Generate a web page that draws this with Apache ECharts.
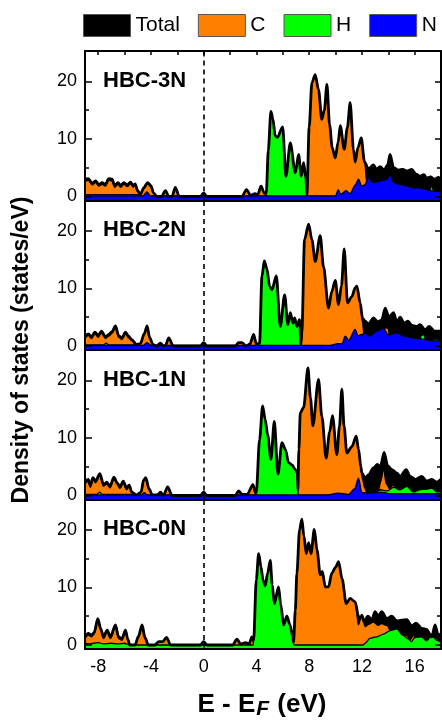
<!DOCTYPE html>
<html><head><meta charset="utf-8">
<script src="https://cdn.jsdelivr.net/npm/echarts@6/dist/echarts.min.js"></script>
<style>html,body{margin:0;padding:0;background:#fff;}#c{width:442px;height:721px;}</style>
</head><body><div id="c"></div>
<script>
const panelNames = ['HBC-3N', 'HBC-2N', 'HBC-1N', 'HBC-0N'];
const seriesNames = ['Total', 'C', 'H', 'N'];
const xTickLabels = [-8, -4, 0, 4, 8, 12, 16];
const xTopTicks = [-8, -6, -4, -2, 0, 2, 4, 6, 8, 10, 12, 14, 16];
const yMajorTicks = [0, 10, 20];
const yMinorTicks = [5, 15];

// ---- HBC-3N ----
const tot3N = [[-9.0,3.0],[-8.75,3.1],[-8.45,2.3],[-8.2,2.7],[-7.95,2.1],[-7.7,2.4],[-7.45,2.1],[-7.2,3.1],[-6.95,3.0],[-6.75,1.9],[-6.5,2.4],[-6.3,1.9],[-6.05,2.4],[-5.8,2.0],[-5.55,2.5],[-5.35,1.9],[-5.2,2.2],[-5.0,1.0],[-4.8,0.35],[-4.55,1.5],[-4.25,2.4],[-4.0,1.9],[-3.8,0.6],[-3.55,0],[-3.2,0],[-2.9,1.0],[-2.65,0],[-2.4,0],[-2.15,1.6],[-1.85,0],[-0.25,0],[0,0.6],[0.25,0],[2.9,0],[3.25,1.2],[3.55,0.2],[3.9,0.5],[4.1,0.3],[4.35,1.8],[4.6,0.6],[4.75,0.6],[4.9,8.0],[5.1,14.8],[5.25,13.5],[5.43,10.5],[5.6,10.3],[5.99,12.1],[6.24,3.5],[6.57,9.3],[6.95,4.1],[7.2,7.3],[7.4,3.5],[7.58,5.9],[7.76,3.0],[7.83,0.3],[8.0,12.0],[8.21,19.8],[8.46,21.2],[8.71,18.6],[8.96,13.4],[9.15,15.0],[9.35,19.5],[9.55,12.5],[9.75,8.5],[9.98,6.7],[10.2,9.5],[10.36,12.3],[10.66,8.2],[10.9,12.0],[11.11,16.3],[11.36,8.2],[11.49,6.0],[11.7,8.5],[11.95,10.2],[12.2,6.0],[12.5,4.8],[12.88,5.5],[13.1,4.7],[13.38,5.2],[13.7,4.6],[13.95,5.5],[14.14,7.3],[14.4,5.0],[14.78,4.6],[15.1,4.7],[15.41,4.4],[15.78,4.7],[16.1,3.9],[16.41,3.5],[16.7,3.8],[16.92,3.2],[17.2,3.4],[17.5,3.0],[17.8,3.3],[18.0,3.0]];
const c3N = [[-9.0,2.6],[-8.75,2.8],[-8.45,2.0],[-8.2,2.4],[-7.95,1.8],[-7.7,2.1],[-7.45,1.8],[-7.2,2.8],[-6.95,2.7],[-6.75,1.6],[-6.5,2.1],[-6.3,1.6],[-6.05,2.1],[-5.8,1.7],[-5.55,2.2],[-5.35,1.6],[-5.2,1.9],[-5.0,0.8],[-4.8,0.2],[-4.55,1.3],[-4.25,2.2],[-4.0,1.7],[-3.8,0.5],[-3.55,0],[-3.2,0],[-2.9,1.0],[-2.65,0],[-2.4,0],[-2.15,1.6],[-1.85,0],[-0.25,0],[0,0.6],[0.25,0],[2.9,0],[3.25,1.2],[3.55,0.2],[3.9,0.5],[4.1,0.3],[4.35,1.8],[4.6,0.5],[4.8,0],[7.83,0],[8.0,12.0],[8.21,19.8],[8.46,21.2],[8.71,18.6],[8.96,13.4],[9.15,15.0],[9.35,19.5],[9.55,12.5],[9.75,8.5],[9.98,6.7],[10.2,9.5],[10.36,12.3],[10.66,8.2],[10.9,12.0],[11.11,16.3],[11.36,8.2],[11.49,6.0],[11.7,8.5],[11.95,10.2],[12.2,6.0],[12.4,2.0],[12.6,0.4],[13.0,0.2],[18.0,0.2]];
const h3N = [[-9.0,0.3],[-7.0,0.3],[-5.0,0.3],[-4.8,0],[4.7,0],[4.75,0.6],[4.9,8.0],[5.1,14.8],[5.25,13.5],[5.43,10.5],[5.6,10.3],[5.99,12.1],[6.24,3.5],[6.57,9.3],[6.95,4.1],[7.2,7.3],[7.4,3.5],[7.58,5.9],[7.76,3.0],[7.83,0],[15.5,0],[15.78,2.0],[16.0,0],[17.0,0],[17.3,1.8],[17.55,0],[18.0,0]];
const n3N = [[-9.0,0.1],[-4.6,0.1],[-4.3,0.8],[-4.05,0.1],[10.0,0.1],[10.2,1.2],[10.4,0.4],[10.8,1.0],[11.1,0.5],[11.5,2.0],[11.74,3.0],[12.0,1.8],[12.2,2.0],[12.5,3.2],[12.88,2.4],[13.38,2.7],[13.9,3.0],[14.14,3.8],[14.4,2.4],[14.9,2.1],[15.41,1.8],[15.9,1.5],[16.4,1.5],[16.9,1.2],[17.4,0.9],[18.0,0.9]];

// ---- HBC-2N ----
const tot2N = [[-9.0,1.7],[-8.75,2.1],[-8.5,1.6],[-8.25,2.4],[-8.0,1.8],[-7.75,2.6],[-7.45,1.6],[-7.2,2.0],[-6.95,2.5],[-6.69,3.5],[-6.45,1.8],[-6.2,1.4],[-5.93,2.4],[-5.7,1.7],[-5.45,1.1],[-5.1,0.25],[-4.8,0.4],[-4.5,2.2],[-4.29,3.5],[-4.1,1.5],[-3.85,0.25],[-3.55,0],[-3.28,0.5],[-3.05,0],[-2.9,0.1],[-2.65,1.4],[-2.3,0],[-0.25,0],[0,0.6],[0.25,0],[2.4,0],[2.65,0.6],[2.9,0.6],[3.2,0],[3.5,0.3],[3.79,2.0],[4.0,0.3],[4.24,0.5],[4.42,12.1],[4.6,14.8],[4.8,13.4],[5.0,10.4],[5.18,9.8],[5.51,12.2],[5.81,3.4],[6.14,8.9],[6.39,3.7],[6.57,5.8],[6.77,4.0],[6.9,4.9],[7.07,3.4],[7.27,4.6],[7.38,0.3],[7.45,2.5],[7.65,18.5],[7.96,21.2],[8.21,18.5],[8.46,14.7],[8.84,19.2],[9.09,13.8],[9.47,6.6],[9.72,9.5],[9.98,11.4],[10.23,7.2],[10.45,10.5],[10.66,16.9],[10.91,7.5],[11.24,8.6],[11.49,10.1],[11.62,10.4],[11.87,7.5],[12.05,4.8],[12.25,4.3],[12.5,3.8],[12.88,4.9],[13.2,4.2],[13.5,4.5],[13.77,6.6],[14.05,5.0],[14.4,5.8],[14.65,4.2],[14.9,5.0],[15.2,4.0],[15.5,4.3],[15.78,3.6],[16.16,3.4],[16.41,3.7],[16.8,2.8],[17.1,3.4],[17.5,2.6],[18.0,2.6]];
const c2N = [[-9.0,1.4],[-8.75,1.8],[-8.5,1.3],[-8.25,2.1],[-8.0,1.5],[-7.75,2.3],[-7.45,1.3],[-7.2,1.7],[-6.95,2.2],[-6.69,3.2],[-6.45,1.5],[-6.2,1.1],[-5.93,2.1],[-5.7,1.4],[-5.45,0.9],[-5.1,0.1],[-4.8,0.3],[-4.5,2.0],[-4.29,3.2],[-4.1,1.3],[-3.85,0.2],[-3.55,0],[-3.28,0.5],[-3.05,0],[-2.9,0.1],[-2.65,1.4],[-2.3,0],[-0.25,0],[0,0.6],[0.25,0],[2.4,0],[2.65,0.6],[2.9,0.6],[3.2,0],[3.5,0.3],[3.79,2.0],[4.0,0.3],[4.2,0],[7.38,0],[7.45,2.5],[7.65,18.5],[7.96,21.2],[8.21,18.5],[8.46,14.7],[8.84,19.2],[9.09,13.8],[9.47,6.6],[9.72,9.5],[9.98,11.4],[10.23,7.2],[10.45,10.5],[10.66,16.9],[10.91,7.5],[11.24,8.6],[11.49,10.1],[11.62,10.4],[11.87,7.5],[12.05,4.0],[12.17,1.7],[12.35,0.2],[13.4,0.3],[13.6,2.5],[13.8,3.2],[14.0,3.0],[14.15,0.5],[14.4,0.2],[18.0,0.2]];
const h2N = [[-9.0,0.2],[-7.6,0.2],[-7.4,0.5],[-7.2,0.2],[-5.0,0.2],[-4.8,0],[4.2,0],[4.24,0.5],[4.42,12.1],[4.6,14.8],[4.8,13.4],[5.0,10.4],[5.18,9.8],[5.51,12.2],[5.81,3.4],[6.14,8.9],[6.39,3.7],[6.57,5.8],[6.77,4.0],[6.9,4.9],[7.07,3.4],[7.27,4.6],[7.38,0],[14.0,0],[14.27,2.5],[14.5,0],[16.3,0],[16.5,1.8],[16.7,2.0],[16.9,0.6],[17.6,1.2],[18.0,1.0]];
const n2N = [[-9.0,0.1],[-4.6,0.1],[-4.3,0.6],[-4.0,0.1],[9.5,0.1],[10.2,0.4],[10.5,0.4],[10.73,1.7],[11.0,1.0],[11.49,2.9],[11.7,1.8],[12.0,2.0],[12.25,2.3],[12.6,1.7],[13.13,2.6],[13.64,3.1],[14.0,1.9],[14.65,2.3],[15.2,1.7],[15.9,1.4],[16.6,1.2],[17.3,0.9],[18.0,0.9]];

// ---- HBC-1N ----
const tot1N = [[-9.0,2.3],[-8.75,2.8],[-8.6,1.7],[-8.4,3.1],[-8.2,2.5],[-7.87,3.8],[-7.6,1.9],[-7.35,2.3],[-7.1,1.6],[-6.81,3.2],[-6.55,2.2],[-6.35,1.5],[-6.1,2.5],[-5.85,1.3],[-5.65,1.8],[-5.45,0.6],[-5.1,0.1],[-4.75,0.6],[-4.55,2.7],[-4.39,3.1],[-4.15,1.2],[-3.9,0.1],[-3.5,0.1],[-3.28,0.6],[-3.05,0],[-2.73,1.5],[-2.4,0],[-0.25,0],[0,0.6],[0.25,0],[2.4,0],[2.65,0.8],[2.9,0.2],[3.3,0.2],[3.74,1.9],[3.92,0.5],[3.99,0.5],[4.24,9.7],[4.47,15.6],[4.67,13.2],[4.85,10.6],[5.1,6.3],[5.36,12.9],[5.63,3.7],[5.94,9.2],[6.2,8.0],[6.44,5.7],[6.7,5.3],[6.95,4.5],[7.1,4.0],[7.15,1.0],[7.22,8.0],[7.33,14.4],[7.58,15.3],[7.91,22.2],[8.1,17.0],[8.28,12.1],[8.71,20.2],[8.96,13.8],[9.29,6.5],[9.55,11.0],[9.77,13.9],[10.1,7.1],[10.3,12.0],[10.48,18.5],[10.65,12.0],[10.86,7.4],[11.24,8.5],[11.57,10.3],[11.75,8.0],[11.92,5.0],[12.0,3.9],[12.25,3.0],[12.5,3.6],[12.88,4.8],[13.18,5.4],[13.4,5.0],[13.69,7.5],[13.95,5.2],[14.27,4.5],[14.65,3.9],[14.9,3.3],[15.36,4.5],[15.66,3.3],[16.04,2.8],[16.54,3.3],[16.92,2.5],[17.3,2.8],[17.68,2.3],[18.0,2.8]];
const c1N = [[-9.0,2.0],[-8.75,2.5],[-8.6,1.4],[-8.4,2.8],[-8.2,2.2],[-7.87,3.5],[-7.6,1.6],[-7.35,2.0],[-7.1,1.3],[-6.81,2.9],[-6.55,1.9],[-6.35,1.2],[-6.1,2.2],[-5.85,1.0],[-5.65,1.5],[-5.45,0.4],[-5.1,0],[-4.75,0.5],[-4.55,2.5],[-4.39,2.9],[-4.15,1.0],[-3.9,0],[-3.5,0],[-3.28,0.6],[-3.05,0],[-2.73,1.5],[-2.4,0],[-0.25,0],[0,0.6],[0.25,0],[2.4,0],[2.65,0.8],[2.9,0.2],[3.3,0.2],[3.74,1.9],[3.92,0.3],[4.0,0],[7.15,0],[7.22,8.0],[7.33,14.4],[7.58,15.3],[7.91,22.2],[8.1,17.0],[8.28,12.1],[8.71,20.2],[8.96,13.8],[9.29,6.5],[9.55,11.0],[9.77,13.9],[10.1,7.1],[10.3,12.0],[10.48,18.5],[10.65,12.0],[10.86,7.4],[11.24,8.5],[11.57,10.3],[11.75,8.0],[11.92,4.6],[12.05,2.8],[12.2,1.4],[12.4,0.3],[13.2,0.4],[13.45,2.5],[13.64,4.7],[13.85,2.0],[14.1,1.2],[14.4,1.9],[14.6,0.4],[18.0,0.3]];
const h1N = [[-9.0,0.2],[-8.1,0.2],[-7.9,0.6],[-7.7,0.2],[-5.3,0.2],[-5.0,0],[3.95,0],[3.99,0.5],[4.24,9.7],[4.47,15.6],[4.67,13.2],[4.85,10.6],[5.1,6.3],[5.36,12.9],[5.63,3.7],[5.94,9.2],[6.2,8.0],[6.44,5.7],[6.7,5.3],[6.95,4.5],[7.1,4.0],[7.15,0],[12.8,0],[13.38,1.0],[13.9,0.8],[14.4,1.4],[14.9,1.0],[15.41,1.6],[15.9,0.6],[16.4,1.0],[16.9,1.1],[17.3,1.3],[17.7,0.6],[18.0,0.7]];
const n1N = [[-9.0,0.1],[-4.7,0.1],[-4.5,0.5],[-4.3,0.1],[9.3,0.1],[10.2,0.4],[11.0,0.2],[11.45,1.2],[11.74,3.0],[12.0,0.5],[12.5,0.4],[13.4,0.6],[14.2,0.3],[18.0,0.3]];

// ---- HBC-0N ----
const tot0N = [[-9.0,1.4],[-8.75,2.0],[-8.5,1.7],[-8.3,2.2],[-8.03,4.6],[-7.8,2.8],[-7.6,1.4],[-7.32,2.6],[-7.07,1.4],[-6.69,3.5],[-6.45,1.4],[-6.2,1.1],[-5.93,2.6],[-5.75,1.0],[-5.6,0],[-5.2,0],[-4.95,1.5],[-4.67,3.5],[-4.45,1.3],[-4.2,0],[-3.7,0],[-3.4,0.6],[-3.1,0.6],[-2.82,1.3],[-2.5,0],[-0.25,0],[0,0.6],[0.25,0],[2.2,0],[2.52,1.0],[2.8,0.2],[3.2,0.4],[3.45,0.2],[3.66,1.4],[3.79,0.8],[3.99,11.3],[4.17,15.9],[4.35,13.6],[4.5,11.3],[4.67,10.3],[4.85,12.5],[5.05,14.7],[5.2,10.5],[5.36,7.2],[5.68,10.1],[5.85,7.0],[6.06,3.5],[6.31,5.0],[6.55,3.5],[6.75,1.5],[6.82,0.5],[6.95,6.0],[7.07,12.5],[7.27,20.0],[7.45,21.9],[7.6,19.0],[7.78,15.9],[7.96,17.8],[8.14,15.9],[8.39,20.1],[8.6,16.5],[8.84,12.2],[9.0,12.8],[9.22,10.1],[9.47,10.1],[9.72,12.5],[10.0,13.5],[10.23,14.5],[10.5,11.5],[10.81,7.2],[11.11,8.1],[11.49,7.5],[11.74,5.0],[11.86,4.6],[12.0,5.2],[12.17,4.0],[12.45,5.0],[12.75,4.4],[13.0,5.8],[13.25,5.0],[13.5,5.8],[13.89,4.6],[14.27,5.0],[14.65,4.2],[15.0,4.3],[15.41,4.4],[15.78,3.3],[16.1,3.8],[16.54,2.9],[16.9,2.7],[17.3,1.4],[17.55,3.5],[17.8,1.6],[18.0,2.0]];
const c0N = [[-9.0,1.1],[-8.75,1.7],[-8.5,1.4],[-8.3,1.9],[-8.03,4.3],[-7.8,2.5],[-7.6,1.1],[-7.32,2.3],[-7.07,1.1],[-6.69,3.2],[-6.45,1.1],[-6.2,0.8],[-5.93,2.3],[-5.75,0.8],[-5.6,0],[-5.2,0],[-4.95,1.3],[-4.67,3.3],[-4.45,1.1],[-4.2,0],[-3.7,0],[-3.4,0.6],[-3.1,0.6],[-2.82,1.3],[-2.5,0],[-0.25,0],[0,0.6],[0.25,0],[2.2,0],[2.52,1.0],[2.8,0.2],[3.2,0.4],[3.45,0.2],[3.66,1.4],[3.79,0.3],[3.85,0],[6.8,0],[6.82,0.5],[6.95,6.0],[7.07,12.5],[7.27,20.0],[7.45,21.9],[7.6,19.0],[7.78,15.9],[7.96,17.8],[8.14,15.9],[8.39,20.1],[8.6,16.5],[8.84,12.2],[9.0,12.8],[9.22,10.1],[9.47,10.1],[9.72,12.5],[10.0,13.5],[10.23,14.5],[10.5,11.5],[10.81,7.2],[11.11,8.1],[11.49,7.5],[11.74,3.5],[11.99,5.2],[12.25,3.2],[12.5,3.6],[12.88,4.0],[13.25,3.4],[13.5,3.7],[13.89,3.4],[14.27,2.2],[14.65,2.6],[15.0,1.8],[15.41,1.6],[15.66,0.9],[15.9,1.6],[16.41,1.2],[16.9,0.9],[17.3,1.9],[17.68,0.9],[18.0,0.6]];
const h0N = [[-9.0,0.3],[-8.7,0.2],[-8.0,0.4],[-7.6,0.2],[-7.0,0.3],[-6.5,0.2],[-6.0,0.3],[-5.75,0.1],[-5.6,0],[3.75,0],[3.79,0.8],[3.99,11.3],[4.17,15.9],[4.35,13.6],[4.5,11.3],[4.67,10.3],[4.85,12.5],[5.05,14.7],[5.2,10.5],[5.36,7.2],[5.68,10.1],[5.85,7.0],[6.06,3.5],[6.31,5.0],[6.55,3.5],[6.75,1.5],[6.82,0],[12.1,0],[12.25,0.3],[12.63,1.2],[13.1,1.4],[13.64,1.9],[14.14,2.5],[14.65,2.8],[15.1,1.7],[15.41,1.2],[15.78,0.6],[16.0,1.3],[16.54,1.4],[16.9,0.7],[17.3,1.7],[17.68,0.8],[18.0,0.5]];

const panelData = [
  [tot3N, c3N, h3N, n3N],
  [tot2N, c2N, h2N, n2N],
  [tot1N, c1N, h1N, n1N],
  [tot0N, c0N, h0N, null]
];

const FONT = '"Liberation Sans", Arial, Helvetica, sans-serif';
const colors = ['#000000', '#FF8000', '#00FF00', '#0000FF'];
const gridTops = [51, 200.5, 350, 499.5];
const gridH = 149.5;
const X_MIN = -9, X_MAX = 18, Y_MIN = -0.7, Y_MAX = 25.3;
const SMOOTH = 0.3;

const chart = echarts.init(document.getElementById('c'), null, {renderer: 'canvas'});
const grids = [], xAxes = [], yAxes = [], series = [], graphics = [];

panelNames.forEach((name, i) => {
  grids.push({left: 85, right: 1, top: gridTops[i], height: gridH, show: false});
  xAxes.push({
    gridIndex: i, type: 'value', min: X_MIN, max: X_MAX, position: 'bottom', z: 10,
    axisLine: {show: true, onZero: false, lineStyle: {color: '#000', width: 2}},
    axisTick: {show: false},
    axisLabel: {show: i === 3, customValues: xTickLabels, fontSize: 18, color: '#000', fontFamily: FONT, margin: 9},
    splitLine: {show: false}
  });
  xAxes.push({
    gridIndex: i, type: 'value', min: X_MIN, max: X_MAX, position: 'top', z: 10,
    axisLine: {show: true, onZero: false, lineStyle: {color: '#000', width: 2}},
    axisTick: {show: i === 0, inside: true, length: 4, customValues: xTopTicks, lineStyle: {color: '#000', width: 1.5}},
    axisLabel: {show: false}, splitLine: {show: false}
  });
  const yBase = {gridIndex: i, type: 'value', min: Y_MIN, max: Y_MAX, z: 10, splitLine: {show: false}};
  yAxes.push(Object.assign({}, yBase, {
    position: 'left',
    axisLine: {show: true, onZero: false, lineStyle: {color: '#000', width: 2}},
    axisTick: {show: true, inside: true, length: 7, customValues: yMajorTicks, lineStyle: {color: '#000', width: 1.5}},
    axisLabel: {show: true, customValues: yMajorTicks, fontSize: 18, color: '#000', fontFamily: FONT, margin: 8}
  }));
  yAxes.push(Object.assign({}, yBase, {
    position: 'left', offset: 0,
    axisLine: {show: false, onZero: false},
    axisTick: {show: true, inside: true, length: 4, customValues: yMinorTicks, lineStyle: {color: '#000', width: 1.5}},
    axisLabel: {show: false}
  }));
  yAxes.push(Object.assign({}, yBase, {
    position: 'right', offset: 0,
    axisLine: {show: true, onZero: false, lineStyle: {color: '#000', width: 2}},
    axisTick: {show: true, inside: true, length: 6, customValues: yMajorTicks, lineStyle: {color: '#000', width: 1.5}},
    axisLabel: {show: false}
  }));
  yAxes.push(Object.assign({}, yBase, {
    position: 'right', offset: 0,
    axisLine: {show: false, onZero: false},
    axisTick: {show: true, inside: true, length: 4, customValues: yMinorTicks, lineStyle: {color: '#000', width: 1.5}},
    axisLabel: {show: false}
  }));

  const d = panelData[i];
  d.forEach((arr, k) => {
    if (!arr) return;
    series.push({
      type: 'line', name: seriesNames[k], xAxisIndex: 2 * i, yAxisIndex: 4 * i,
      data: arr, symbol: 'none', showSymbol: false, smooth: SMOOTH, smoothMonotone: 'x',
      lineStyle: {color: '#000', width: k === 0 ? 1 : 1.3},
      itemStyle: {color: colors[k]},
      areaStyle: {color: colors[k], opacity: 1, origin: 'start'},
      z: 2 + k * 0.01, silent: true
    });
  });
  series.push({
    type: 'line', name: 'Total', xAxisIndex: 2 * i, yAxisIndex: 4 * i,
    data: d[0], symbol: 'none', showSymbol: false, smooth: SMOOTH, smoothMonotone: 'x',
    lineStyle: {color: '#000', width: 2.8}, itemStyle: {color: '#000'}, z: 3, silent: true,
    markLine: {silent: true, symbol: 'none', label: {show: false},
      lineStyle: {type: [5, 4], color: '#000', width: 1.6},
      data: [{xAxis: 0}]}
  });

  graphics.push({
    type: 'text', x: 103, y: gridTops[i] + 29.5, z: 20,
    style: {text: name, font: 'bold 22px ' + FONT, fill: '#000', textVerticalAlign: 'middle', verticalAlign: 'middle'}
  });
});

graphics.push({
  type: 'text', x: 22, y: 350, rotation: Math.PI / 2, z: 20,
  style: {text: 'Density of states (states/eV)', font: 'bold 23px ' + FONT, fill: '#000',
    textAlign: 'center', align: 'center', textVerticalAlign: 'middle', verticalAlign: 'middle'}
});
graphics.push({
  type: 'text', x: 262, y: 705, z: 20,
  style: {
    text: '{a|E - E}{b|F}{a| (eV)}',
    textAlign: 'center', align: 'center', textVerticalAlign: 'middle', verticalAlign: 'middle',
    rich: {
      a: {fontSize: 26, fontWeight: 'bold', fontFamily: FONT, fill: '#000', lineHeight: 30},
      b: {fontSize: 21, fontWeight: 'bold', fontStyle: 'italic', fontFamily: FONT, fill: '#000', lineHeight: 18, verticalAlign: 'bottom', padding: [0, 1, 0, 1]}
    }
  }
});

chart.setOption({
  animation: false,
  backgroundColor: '#fff',
  legend: {
    left: 83, top: 14, padding: 0, itemWidth: 47, itemHeight: 22, itemGap: 18, icon: 'rect',
    selectedMode: false,
    textStyle: {fontSize: 21, color: '#000', fontFamily: FONT},
    data: seriesNames.map((n, k) => ({name: n, itemStyle: {color: colors[k], borderColor: '#555', borderWidth: 1}}))
  },
  grid: grids, xAxis: xAxes, yAxis: yAxes, series: series,
  graphic: graphics
});
</script></body></html>
